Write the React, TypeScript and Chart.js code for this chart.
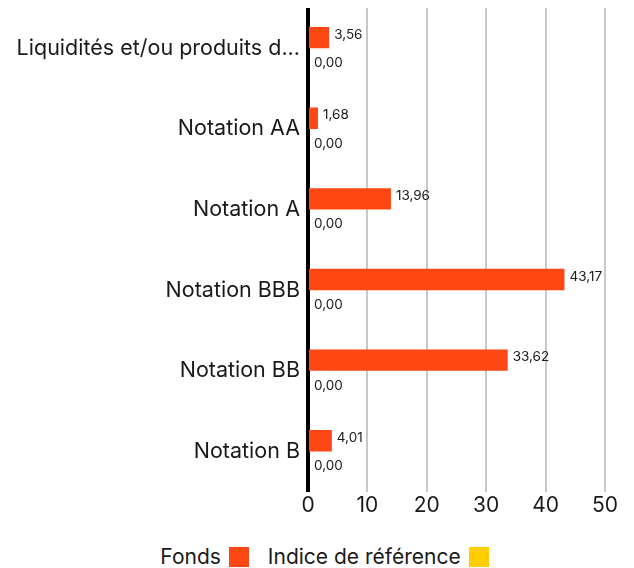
import React, { useEffect, useRef } from "react";
import { Chart, registerables } from "chart.js";

Chart.register(...registerables);

const categories = [
  "Liquidités et/ou produits d...",
  "Notation AA",
  "Notation A",
  "Notation BBB",
  "Notation BB",
  "Notation B",
];
const fondsValues = [3.56, 1.68, 13.96, 43.17, 33.62, 4.01];
const indiceValues = [0, 0, 0, 0, 0, 0];
const seriesNames = ["Fonds", "Indice de référence"];
const seriesColors = ["#FF4713", "#FFCE00"];
const xTicks = [0, 10, 20, 30, 40, 50];

const FONT = "Inter, 'Noto Sans', sans-serif";

const valueLabels = {
  id: "valueLabels",
  afterDatasetsDraw(chart: any) {
    const ctx = chart.ctx;
    ctx.save();
    ctx.font = `13.5px ${FONT}`;
    ctx.fillStyle = "#1a1a1a";
    ctx.textBaseline = "middle";
    ctx.textAlign = "left";
    chart.data.datasets.forEach((ds: any, di: number) => {
      const meta = chart.getDatasetMeta(di);
      meta.data.forEach((el: any, i: number) => {
        const v = ds.data[i] as number;
        const txt = v.toFixed(2).replace(".", ",");
        const dy = di === 0 ? -3 : 4;
        const dx = di === 0 ? 5 : 6;
        ctx.fillText(txt, el.x + dx, el.y + dy);
      });
    });
    ctx.restore();
  },
};

export default function App() {
  const ref = useRef<HTMLCanvasElement>(null);
  useEffect(() => {
    if (!ref.current) return;
    const chart = new Chart(ref.current, {
      type: "bar",
      data: {
        labels: categories,
        datasets: [
          {
            label: seriesNames[0],
            data: fondsValues,
            backgroundColor: seriesColors[0],
            categoryPercentage: 0.53,
            barPercentage: 1,
          },
          {
            label: seriesNames[1],
            data: indiceValues,
            backgroundColor: seriesColors[1],
            categoryPercentage: 0.53,
            barPercentage: 1,
          },
        ],
      },
      options: {
        indexAxis: "y",
        animation: false,
        responsive: true,
        maintainAspectRatio: false,
        layout: { padding: { top: 0, right: 21, bottom: 0, left: 0 } },
        plugins: {
          legend: { display: false },
          tooltip: { enabled: false },
        },
        scales: {
          x: {
            min: 0,
            max: 50,
            afterBuildTicks: (s: any) => {
              s.ticks = xTicks.map((v) => ({ value: v }));
            },
            grid: {
              color: (c: any) => (c.tick && c.tick.value === 0 ? "rgba(0,0,0,0)" : "#c8c8c8"),
              lineWidth: 2,
              drawTicks: false,
            },
            border: { display: false },
            ticks: {
              color: "#1a1a1a",
              font: { family: FONT, size: 21 },
              padding: 1,
            },
          },
          y: {
            grid: { display: false, drawTicks: false },
            border: { display: true, color: "#000", width: 4 },
            afterFit: (s: any) => {
              s.width = 300;
              s.paddingTop = 0;
              s.paddingBottom = 0;
            },
            ticks: {
              color: "#1a1a1a",
              font: { family: FONT, size: 21.5 },
              padding: 8,
            },
          },
        },
      },
      plugins: [valueLabels],
    });
    return () => chart.destroy();
  }, []);

  return (
    <div style={{ width: 618, fontFamily: FONT }}>
      <div style={{ position: "relative", width: 618, height: 511 }}>
        <canvas ref={ref} />
      </div>
      <div
        style={{
          display: "flex",
          justifyContent: "center",
          alignItems: "center",
          marginTop: 25,
          fontSize: 21,
          color: "#1a1a1a",
          paddingLeft: 15,
        }}
      >
        {seriesNames.map((n, i) => (
          <div key={n} style={{ display: "flex", alignItems: "center", marginRight: i === 0 ? 19 : 0 }}>
            <span>{n}</span>
            <span
              style={{
                display: "inline-block",
                width: 20,
                height: 20,
                background: seriesColors[i],
                marginLeft: 8,
              }}
            />
          </div>
        ))}
      </div>
    </div>
  );
}
